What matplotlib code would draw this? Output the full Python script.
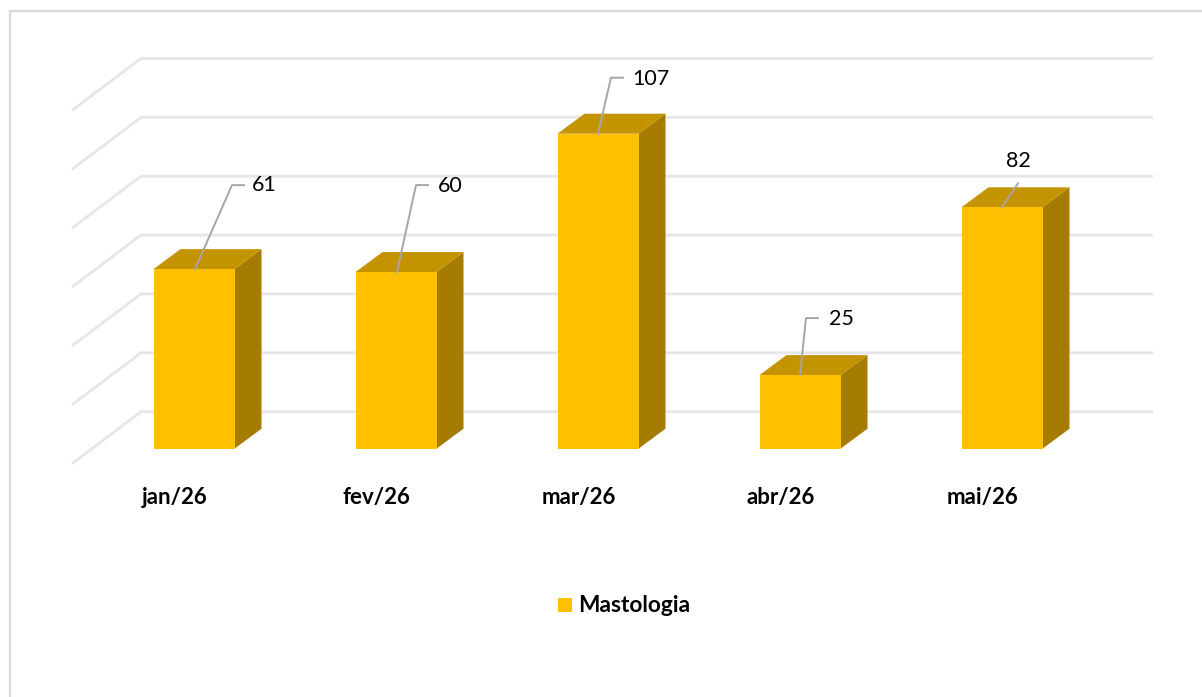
import matplotlib.pyplot as plt
from matplotlib.patches import Polygon

plt.rcParams['font.family'] = ['Lato', 'DejaVu Sans']

categories = ['jan/26', 'fev/26', 'mar/26', 'abr/26', 'mai/26']
values = [61, 60, 107, 25, 82]
gridlines = [0, 20, 40, 60, 80, 100, 120]
series_name = 'Mastologia'

W, H = 1202, 697
SPACING = 202         # px between categories
UNIT = 2.944          # px per value unit
X0, Y0 = 194, 448.7   # px of first bar centre / baseline

fig = plt.figure(figsize=(W / 100, H / 100), dpi=100)
ax = fig.add_axes([0, 0, 1, 1])
ax.set_xlim(-X0 / SPACING, (W - X0) / SPACING)
ax.set_ylim((Y0 - H) / UNIT, Y0 / UNIT)
ax.axis('off')


def dx(px):
    return px / SPACING


def dy(px):
    return px / UNIT


# frame of the chart, only top and left are inside the crop
ax.plot([1, 9.5 / W, 9.5 / W], [1 - 11 / H, 1 - 11 / H, 0], transform=ax.transAxes,
        color='#d9d9d9', lw=1.6, zorder=0, clip_on=False)

# gridlines: diagonal on the side wall, flat on the back wall
wall_x = -X0 / SPACING + dx(72)
back_x = -X0 / SPACING + dx(141)
end_x = -X0 / SPACING + dx(1153)
for g in gridlines:
    y_front = g + dy(-15)
    y_back = g + dy(37)
    ax.plot([wall_x, back_x, end_x], [y_front, y_back, y_back], color='#e6e6e6', lw=2.0,
            solid_joinstyle='round', solid_capstyle='butt', zorder=1)

# 3D looking bars
half = dx(40.5)
depth_x, depth_y = dx(27), dy(20)
for i, v in enumerate(values):
    ax.add_patch(Polygon([(i + half, 0), (i + half + depth_x, depth_y),
                          (i + half + depth_x, v + depth_y), (i + half, v)],
                         fc='#a67c00', ec='none', zorder=2))
    ax.add_patch(Polygon([(i - half, v), (i - half + depth_x, v + depth_y),
                          (i + half + depth_x, v + depth_y), (i + half, v)],
                         fc='#c49300', ec='none', zorder=2))
    ax.bar(i, v, width=2 * half, color='#ffc000', zorder=3)

# leader lines and data labels, px offsets from the top centre of the bar
leader_x = [[1, 38, 50], [1, 20, 32], [0, 13, 25], [0, 6, 18], [0, 16]]
leader_y = [[0, 84, 84], [0, 87, 87], [0, 56, 56], [0, 57, 57], [0, 24]]
label_x = [58, 42, 34, 29, 4]
label_y = [84, 86, 55, 56, 46]
for i, v in enumerate(values):
    ax.plot([i + dx(p) for p in leader_x[i]], [v + dy(p) for p in leader_y[i]],
            color='#a6a6a6', lw=1.4, zorder=4)
    ax.text(i + dx(label_x[i]), v + dy(label_y[i]), str(v), fontsize=15.5, color='#000000',
            ha='left', va='center', zorder=5)

# category labels
for i, c in enumerate(categories):
    ax.text(i + dx(-19.5), dy(-49), c, fontsize=16, fontweight='bold',
            color='#000000', ha='center', va='center')

# legend
ax.fill([dx(558 - X0), dx(572 - X0), dx(572 - X0), dx(558 - X0)],
        [dy(Y0 - 612), dy(Y0 - 612), dy(Y0 - 598), dy(Y0 - 598)], color='#ffc000', lw=0)
ax.text(dx(578 - X0), dy(Y0 - 605), series_name, fontsize=16.3, fontweight='bold',
        color='#000000', ha='left', va='center')

plt.savefig('out.png', dpi=100)
